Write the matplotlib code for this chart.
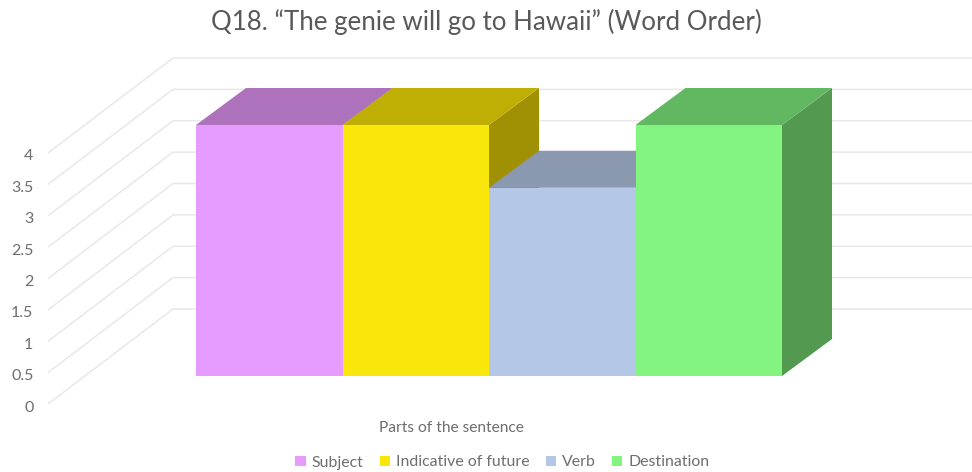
import matplotlib
matplotlib.use('Agg')
import matplotlib.pyplot as plt
from matplotlib.patches import Polygon
from matplotlib.transforms import ScaledTranslation

categories = ['Subject', 'Indicative of future', 'Verb', 'Destination']
values = [4, 4, 3, 4]
ticks = [0, 0.5, 1, 1.5, 2, 2.5, 3, 3.5, 4]
tick_labels = ['0', '0.5', '1', '1.5', '2', '2.5', '3', '3.5', '4']

front_colors = ['#E69BFF', '#F9E70B', '#B4C7E7', '#83F47F']
top_colors = ['#AE71BB', '#BFAE04', '#8A98B0', '#62B761']
side_colors = ['#8F5C9C', '#A09003', '#717E94', '#539A50']
grid_color = '#E8E8E8'
text_color = '#6E6E6E'

plt.rcParams['font.family'] = ['Lato', 'DejaVu Sans']

W, H = 972, 472
UX = 146.5  # px per category
UY = 62.75  # px per value unit

fig = plt.figure(figsize=(W / 100, H / 100), dpi=100)
ax = fig.add_axes([48 / W, (H - 404) / H, (W - 48) / W, 364 / H])
ax.set_xlim((48 - 196) / UX - 0.5, (W - 196) / UX - 0.5)
ax.set_ylim(0, 364 / UY)

# 3d depth of bars and walls, in data units
bar_dx, bar_dy = 50 / UX, 37 / UY
wall_dx, wall_dy = 125 / UX, 95 / UY
x_left = ax.get_xlim()[0]
x_right = ax.get_xlim()[1]
base = 28 / UY

for t in ticks:
    ax.plot([x_left, x_left + wall_dx, x_right], [t, t + wall_dy, t + wall_dy],
            color=grid_color, lw=1.1, zorder=1, solid_joinstyle='miter')

for i, (cat, v) in enumerate(zip(categories, values)):
    z = 2 + i
    x0, x1 = i - 0.5, i + 0.5
    y0, y1 = base, base + v
    side = Polygon([(x1, y0), (x1 + bar_dx, y0 + bar_dy), (x1 + bar_dx, y1 + bar_dy), (x1, y1)],
                   facecolor=side_colors[i], edgecolor='none', zorder=z)
    top = Polygon([(x0, y1), (x1, y1), (x1 + bar_dx, y1 + bar_dy), (x0 + bar_dx, y1 + bar_dy)],
                  facecolor=top_colors[i], edgecolor='none', zorder=z)
    ax.add_patch(side)
    ax.add_patch(top)
    ax.bar(i, v, width=1, bottom=base, color=front_colors[i], label=cat, zorder=z + 0.5)

ax.set_yticks(ticks)
ax.set_yticklabels(tick_labels)
ax.tick_params(axis='y', length=0, pad=10.5, labelsize=11.5, labelcolor=text_color)
# labels sit a little under the gridline ends
nudge = ScaledTranslation(0, -2 / 100, fig.dpi_scale_trans)
for lab in ax.get_yticklabels():
    lab.set_transform(lab.get_transform() + nudge)
ax.set_xticks([])
for s in ax.spines.values():
    s.set_visible(False)
ax.patch.set_visible(False)

fig.text(486 / W, 1 - 22 / H, 'Q18. “The genie will go to Hawaii” (Word Order)',
         ha='center', va='center', fontsize=18.6, color='#595959')
fig.text(451 / W, 1 - 427.5 / H, 'Parts of the sentence',
         ha='center', va='center', fontsize=11.2, color=text_color)

ax.legend(loc='center', bbox_to_anchor=(502.5 / W, 1 - 462.5 / H), bbox_transform=fig.transFigure,
          ncol=4, frameon=False, fontsize=11.4, labelcolor=text_color,
          handlelength=0.65, handleheight=0.65, handletextpad=0.4, columnspacing=1.0)

fig.savefig('out.png', dpi=100)
